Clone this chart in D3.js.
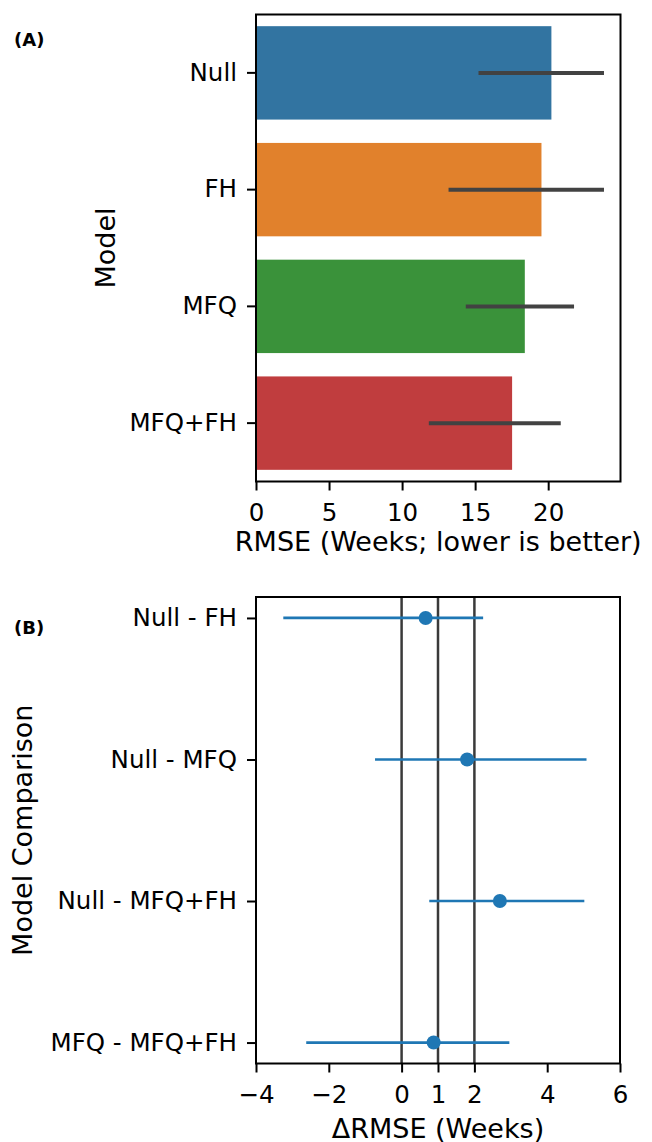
<!DOCTYPE html>
<html lang="en">
<head>
	<meta charset="utf-8"/>
	<title>RMSE by model</title>
	<script src="https://d3js.org/d3.v7.min.js"></script>
	<style>
		body { margin: 0; background: #fff; }
		text { font-family: "DejaVu Sans", sans-serif; fill: #000; }
	</style>
</head>
<body>
<script>
// data for panel A (bar chart of RMSE with 95% CI)
	var models = ["Null", "FH", "MFQ", "MFQ+FH"];
	var rmse = [20.22, 19.54, 18.40, 17.53];
	var rmseLow = [15.23, 13.18, 14.36, 11.83];
	var rmseHigh = [23.82, 23.82, 21.77, 20.86];
	var barColors = ["#3274a1", "#e1812c", "#3a923a", "#c03d3e"];
	var xTicksA = [0, 5, 10, 15, 20];

// data for panel B (pairwise difference in RMSE)
	var comparisons = ["Null - FH", "Null - MFQ", "Null - MFQ+FH", "MFQ - MFQ+FH"];
	var delta = [0.66, 1.80, 2.70, 0.88];
	var deltaLow = [-3.25, -0.73, 0.76, -2.62];
	var deltaHigh = [2.24, 5.08, 5.02, 2.96];
	var refLines = [0, 1, 2];
	var xTicksB = [-4, -2, 0, 1, 2, 4, 6];

	var w = 652;
	var h = 1142;
	var tickFont = "24.5px";
	var labelFont = "27px";

	var svg = d3.select("body")
				.append("svg")
				.attr("width", w)
				.attr("height", h);

	svg.append("rect").attr("width", w).attr("height", h).attr("fill", "#fff");

// ---------- panel A ----------
	var boxA = {left: 256, right: 620.5, top: 14.5, bottom: 481.5};

	var xA = d3.scaleLinear()
				.domain([0, 24.95])
				.range([boxA.left, boxA.right]);

	var yA = d3.scaleBand()
				.domain(models)
				.range([boxA.top, boxA.bottom])
				.paddingInner(0.2)
				.paddingOuter(0.1);

	var gA = svg.append("g");

	gA.selectAll("rect.bar")
		.data(models)
		.enter()
		.append("rect")
		.attr("class", "bar")
		.attr("x", xA(0))
		.attr("y", function(d) {return yA(d);})
		.attr("width", function(d, i) {return xA(rmse[i]) - xA(0);})
		.attr("height", yA.bandwidth())
		.attr("fill", function(d, i) {return barColors[i];});

// error bars
	gA.selectAll("line.err")
		.data(models)
		.enter()
		.append("line")
		.attr("class", "err")
		.attr("x1", function(d, i) {return xA(rmseLow[i]);})
		.attr("x2", function(d, i) {return xA(rmseHigh[i]);})
		.attr("y1", function(d) {return yA(d) + yA.bandwidth() / 2;})
		.attr("y2", function(d) {return yA(d) + yA.bandwidth() / 2;})
		.attr("stroke", "#424242")
		.attr("stroke-width", 4);

// axes
	var axA = gA.append("g")
		.attr("transform", "translate(0," + boxA.bottom + ")")
		.call(d3.axisBottom(xA).tickValues(xTicksA).tickSize(9).tickPadding(13));

	var ayA = gA.append("g")
		.attr("transform", "translate(" + boxA.left + ",0)")
		.call(d3.axisLeft(yA).tickSize(9).tickPadding(10));

	[axA, ayA].forEach(function(a) {
		a.select(".domain").remove();
		a.selectAll(".tick line").attr("stroke", "#000").attr("stroke-width", 2);
		a.selectAll(".tick text").style("font-size", tickFont).attr("fill", "#000");
	});

	gA.append("rect")
		.attr("x", boxA.left)
		.attr("y", boxA.top)
		.attr("width", boxA.right - boxA.left)
		.attr("height", boxA.bottom - boxA.top)
		.attr("fill", "none")
		.attr("stroke", "#000")
		.attr("stroke-width", 2);

	gA.append("text")
		.attr("x", (boxA.left + boxA.right) / 2)
		.attr("y", 551)
		.attr("text-anchor", "middle")
		.style("font-size", labelFont)
		.text("RMSE (Weeks; lower is better)");

	gA.append("text")
		.attr("transform", "translate(115," + (boxA.top + boxA.bottom) / 2 + ") rotate(-90)")
		.attr("text-anchor", "middle")
		.style("font-size", labelFont)
		.text("Model");

	gA.append("text")
		.attr("x", 14)
		.attr("y", 46)
		.style("font-size", "18px")
		.style("font-weight", "bold")
		.text("(A)");

// ---------- panel B ----------
	var boxB = {left: 256, right: 620, top: 597, bottom: 1063.5};

	var xB = d3.scaleLinear()
				.domain([-4, 6])
				.range([boxB.left, boxB.right]);

	var yB = d3.scalePoint()
				.domain(comparisons)
				.range([boxB.top, boxB.bottom])
				.padding(0.148);

	var gB = svg.append("g");

// reference lines
	gB.selectAll("line.ref")
		.data(refLines)
		.enter()
		.append("line")
		.attr("class", "ref")
		.attr("x1", function(d) {return xB(d);})
		.attr("x2", function(d) {return xB(d);})
		.attr("y1", boxB.top)
		.attr("y2", boxB.bottom)
		.attr("stroke", "#3a3a3a")
		.attr("stroke-width", 2.5);

	gB.selectAll("line.ci")
		.data(comparisons)
		.enter()
		.append("line")
		.attr("class", "ci")
		.attr("x1", function(d, i) {return xB(deltaLow[i]);})
		.attr("x2", function(d, i) {return xB(deltaHigh[i]);})
		.attr("y1", function(d) {return yB(d);})
		.attr("y2", function(d) {return yB(d);})
		.attr("stroke", "#1f77b4")
		.attr("stroke-width", 2.7);

	gB.selectAll("circle")
		.data(comparisons)
		.enter()
		.append("circle")
		.attr("cx", function(d, i) {return xB(delta[i]);})
		.attr("cy", function(d) {return yB(d);})
		.attr("r", 7)
		.attr("fill", "#1f77b4");

	var axB = gB.append("g")
		.attr("transform", "translate(0," + boxB.bottom + ")")
		.call(d3.axisBottom(xB).tickValues(xTicksB).tickSize(9).tickPadding(13)
			.tickFormat(function(d) {return d < 0 ? "\u2212" + Math.abs(d) : d;}));

	var ayB = gB.append("g")
		.attr("transform", "translate(" + boxB.left + ",0)")
		.call(d3.axisLeft(yB).tickSize(9).tickPadding(10));

	[axB, ayB].forEach(function(a) {
		a.select(".domain").remove();
		a.selectAll(".tick line").attr("stroke", "#000").attr("stroke-width", 2);
		a.selectAll(".tick text").style("font-size", tickFont).attr("fill", "#000");
	});

	gB.append("rect")
		.attr("x", boxB.left)
		.attr("y", boxB.top)
		.attr("width", boxB.right - boxB.left)
		.attr("height", boxB.bottom - boxB.top)
		.attr("fill", "none")
		.attr("stroke", "#000")
		.attr("stroke-width", 2);

	gB.append("text")
		.attr("x", (boxB.left + boxB.right) / 2)
		.attr("y", 1138)
		.attr("text-anchor", "middle")
		.style("font-size", labelFont)
		.text("\u0394RMSE (Weeks)");

	gB.append("text")
		.attr("transform", "translate(32," + (boxB.top + boxB.bottom) / 2 + ") rotate(-90)")
		.attr("text-anchor", "middle")
		.style("font-size", labelFont)
		.text("Model Comparison");

	gB.append("text")
		.attr("x", 14)
		.attr("y", 634)
		.style("font-size", "18px")
		.style("font-weight", "bold")
		.text("(B)");
</script>
</body>
</html>
